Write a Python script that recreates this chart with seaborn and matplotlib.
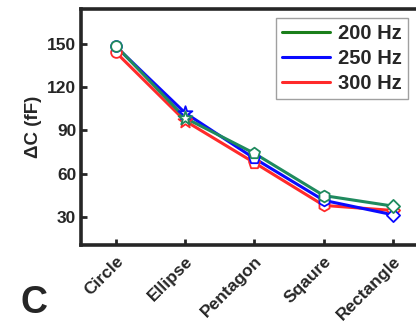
import pandas as pd
import seaborn as sns
import matplotlib
matplotlib.use("Agg")
import matplotlib.pyplot as plt

shapes = ["Circle", "Ellipse", "Pentagon", "Sqaure", "Rectangle"]
series = ["200 Hz", "250 Hz", "300 Hz"]
dc_200 = [148.5, 98.5, 74.0, 44.8, 37.5]
dc_250 = [148.0, 102.0, 70.5, 41.5, 31.5]
dc_300 = [144.0, 96.5, 67.5, 38.0, 34.5]

colors = {"200 Hz": "#1f8a5e", "250 Hz": "#0a0aff", "300 Hz": "#ff2a2a"}
legend_colors = {"200 Hz": "#1a7f1a", "250 Hz": "#0a0aff", "300 Hz": "#ff2a2a"}
shape_markers = ["o", "*", "p", "h", "D"]
shape_sizes = [60, 110, 70, 70, 45]

df = pd.DataFrame({
    "shape": shapes * 3,
    "x": list(range(len(shapes))) * 3,
    "series": [s for s in series for _ in shapes],
    "dc": dc_200 + dc_250 + dc_300,
})

sns.set_style("ticks")
plt.rcParams["font.family"] = ["Liberation Sans", "DejaVu Sans"]
plt.rcParams["font.weight"] = "bold"

fig = plt.figure(figsize=(4.16, 3.28), dpi=100)
ax = fig.add_axes([0.195, 0.253, 0.85, 0.72])

# draw red first, teal last so teal sits on top
for name in ["300 Hz", "250 Hz", "200 Hz"]:
    sub = df[df["series"] == name]
    sns.lineplot(data=sub, x="x", y="dc", color=colors[name], lw=2.2, ax=ax,
                 legend=False, zorder=2)
    for i, row in enumerate(sub.itertuples()):
        ax.scatter(row.x, row.dc, marker=shape_markers[i], s=shape_sizes[i],
                   facecolors="white", edgecolors=colors[name], linewidths=1.3,
                   zorder=3)

ax.set_xlim(-0.5, 4.6)
ax.set_ylim(10.6, 174)
ax.set_xticks(range(len(shapes)))
ax.set_xticklabels(shapes, rotation=45, ha="right", rotation_mode="anchor",
                   fontsize=12.5, fontweight="bold")
ax.set_yticks([30, 60, 90, 120, 150])
ax.tick_params(axis="both", direction="in", length=4, width=2, labelsize=12.5)
ax.tick_params(axis="x", pad=6)
for lab in ax.get_yticklabels():
    lab.set_fontweight("bold")
ax.set_xlabel("")
ax.set_ylabel("ΔC (fF)", fontsize=13.5, fontweight="bold", labelpad=4)
for sp in ax.spines.values():
    sp.set_linewidth(2.6)

handles = [plt.Line2D([], [], color=legend_colors[s], lw=2.2) for s in series]
leg = fig.legend(handles, series, loc="upper right", bbox_to_anchor=(1.005, 0.975),
                 frameon=True, fancybox=False, edgecolor="#888888",
                 prop={"size": 14.5, "weight": "bold"}, handlelength=2.4,
                 borderpad=0.3, labelspacing=0.3, handletextpad=0.4)
leg.get_frame().set_linewidth(1.0)

fig.text(0.05, 0.045, "C", fontsize=27, fontweight="bold")

fig.savefig("out.png", dpi=100)
